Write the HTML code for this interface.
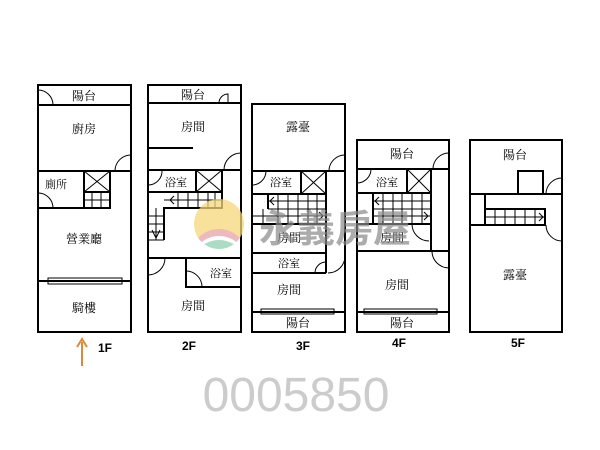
<!DOCTYPE html>
<html><head><meta charset="utf-8"><style>
html,body{margin:0;padding:0;background:#fff;}
svg{display:block;}
text{font-family:"Liberation Sans","Noto Sans CJK TC",sans-serif;}
.lb text{font-family:"Liberation Serif","Noto Serif CJK SC",serif;}
</style></head><body>
<svg width="600" height="450" viewBox="0 0 600 450" xmlns="http://www.w3.org/2000/svg">
<defs>
<clipPath id="lc"><circle cx="219" cy="224" r="25"/></clipPath>
</defs>
<g fill="none" stroke="#000" stroke-width="2">
<rect x="38" y="85" width="93" height="247"/>
<line x1="38" y1="105" x2="131" y2="105"/>
<line x1="38" y1="171" x2="131" y2="171"/>
<polyline points="38,208 84,208 84,171"/>
<rect x="84" y="171" width="26" height="21"/>
<rect x="84" y="192" width="26" height="16"/>
<line x1="38" y1="281" x2="131" y2="281"/>
</g>
<g fill="none" stroke="#000" stroke-width="1">
<line x1="84" y1="171" x2="110" y2="192"/><line x1="110" y1="171" x2="84" y2="192"/>
<line x1="92" y1="192" x2="92" y2="208"/><line x1="101" y1="192" x2="101" y2="208"/><line x1="84" y1="200" x2="110" y2="200"/>
<rect x="48" y="278" width="74" height="6"/>
<path d="M38,90 A15,15 0 0 1 53,105"/>
<path d="M131,155 A16,16 0 0 0 115,171"/>
<path d="M38,193 A15,15 0 0 1 53,208"/>
</g>
<g fill="none" stroke="#000" stroke-width="2">
<rect x="148" y="85" width="93" height="247"/>
<line x1="148" y1="103" x2="241" y2="103"/>
<line x1="148" y1="148" x2="193" y2="148"/>
<line x1="148" y1="170" x2="241" y2="170"/>
<polyline points="148,192 196,192 196,170"/>
<rect x="196" y="170" width="26" height="22"/>
<polyline points="164,240 164,208 222,208 222,192 164,192"/>
<line x1="148" y1="258" x2="241" y2="258"/>
<polyline points="186,258 186,287 241,287"/>
</g>
<g fill="none" stroke="#000" stroke-width="1">
<line x1="196" y1="170" x2="222" y2="192"/><line x1="222" y1="170" x2="196" y2="192"/>
<line x1="164" y1="200" x2="222" y2="200"/>
<line x1="178" y1="192" x2="178" y2="208"/><line x1="188" y1="192" x2="188" y2="208"/><line x1="198" y1="192" x2="198" y2="208"/><line x1="208" y1="192" x2="208" y2="208"/><line x1="215" y1="192" x2="215" y2="208"/>
<line x1="156" y1="208" x2="156" y2="240"/>
<line x1="148" y1="216" x2="164" y2="216"/><line x1="148" y1="224" x2="164" y2="224"/><line x1="148" y1="232" x2="164" y2="232"/><line x1="148" y1="240" x2="164" y2="240"/>
<path d="M170,200 L184,200 M174,196 L170,200 L174,204"/>
<path d="M152,230 L156,238 L160,230"/>
<path d="M228,103 L228,94 A9,9 0 0 0 219,103"/>
<path d="M241,153 A17,17 0 0 0 224,170"/>
<path d="M148,185 A14,14 0 0 0 162,170"/>
<path d="M148,275 A17,17 0 0 0 165,258"/>
<path d="M186,271 A16,16 0 0 1 202,287"/>
</g>
<g fill="none" stroke="#000" stroke-width="2">
<rect x="252" y="104" width="93" height="228"/>
<line x1="252" y1="171" x2="345" y2="171"/>
<line x1="252" y1="194" x2="326" y2="194"/>
<rect x="301" y="171" width="25" height="23"/>
<line x1="326" y1="171" x2="326" y2="273"/>
<line x1="268" y1="194" x2="268" y2="209"/>
<line x1="252" y1="224" x2="326" y2="224"/>
<line x1="252" y1="253" x2="326" y2="253"/>
<line x1="252" y1="273" x2="326" y2="273"/>
<line x1="252" y1="312" x2="345" y2="312"/>
</g>
<g fill="none" stroke="#000" stroke-width="1">
<line x1="301" y1="171" x2="326" y2="194"/><line x1="326" y1="171" x2="301" y2="194"/>
<line x1="268" y1="209" x2="326" y2="209"/><line x1="268" y1="201" x2="326" y2="201"/><line x1="252" y1="216" x2="326" y2="216"/>
<line x1="278" y1="194" x2="278" y2="224"/><line x1="288" y1="194" x2="288" y2="224"/><line x1="298" y1="194" x2="298" y2="224"/><line x1="308" y1="194" x2="308" y2="224"/><line x1="317" y1="194" x2="317" y2="224"/>
<line x1="263" y1="209" x2="263" y2="224"/>
<path d="M270,201 L290,201 M274,197 L270,201 L274,205"/>
<path d="M300,216 L323,216 M319,212 L323,216 L319,220"/>
<rect x="261" y="309" width="73" height="5"/>
<path d="M345,155 A16,16 0 0 0 329,171"/>
<path d="M252,185 A14,14 0 0 0 266,171"/>
<path d="M345,256 A17,17 0 0 1 328,273"/>
<path d="M326,262 A11,11 0 0 0 315,273"/>
</g>
<g fill="none" stroke="#000" stroke-width="2">
<rect x="357" y="140" width="92" height="192"/>
<line x1="357" y1="169" x2="449" y2="169"/>
<line x1="357" y1="193" x2="431" y2="193"/>
<rect x="407" y="169" width="24" height="24"/>
<line x1="431" y1="169" x2="431" y2="251"/>
<line x1="373" y1="193" x2="373" y2="224"/>
<line x1="357" y1="224" x2="431" y2="224"/>
<line x1="357" y1="251" x2="449" y2="251"/>
<line x1="357" y1="312" x2="449" y2="312"/>
</g>
<g fill="none" stroke="#000" stroke-width="1">
<line x1="407" y1="169" x2="431" y2="193"/><line x1="431" y1="169" x2="407" y2="193"/>
<line x1="373" y1="201" x2="431" y2="201"/><line x1="373" y1="209" x2="431" y2="209"/><line x1="373" y1="216" x2="431" y2="216"/>
<line x1="383" y1="193" x2="383" y2="224"/><line x1="393" y1="193" x2="393" y2="224"/><line x1="402" y1="193" x2="402" y2="224"/><line x1="412" y1="193" x2="412" y2="224"/><line x1="422" y1="193" x2="422" y2="224"/>
<path d="M375,201 L395,201 M379,197 L375,201 L379,205"/>
<path d="M405,216 L428,216 M424,212 L428,216 L424,220"/>
<rect x="364" y="309" width="73" height="5"/>
<path d="M449,153 A16,16 0 0 0 433,169"/>
<path d="M357,183 A14,14 0 0 0 371,169"/>
<path d="M412,224 A17,17 0 0 0 429,241"/>
<path d="M449,268 A17,17 0 0 1 432,251"/>
</g>
<g fill="none" stroke="#000" stroke-width="2">
<rect x="470" y="140" width="92" height="192"/>
<rect x="518" y="171" width="25" height="23"/>
<line x1="470" y1="194" x2="562" y2="194"/>
<line x1="485" y1="194" x2="485" y2="225"/>
<rect x="485" y="209" width="60" height="16"/>
<line x1="470" y1="225" x2="545" y2="225"/>
</g>
<g fill="none" stroke="#000" stroke-width="1">
<line x1="485" y1="217" x2="545" y2="217"/>
<line x1="495" y1="209" x2="495" y2="225"/><line x1="505" y1="209" x2="505" y2="225"/><line x1="515" y1="209" x2="515" y2="225"/><line x1="525" y1="209" x2="525" y2="225"/><line x1="535" y1="209" x2="535" y2="225"/>
<path d="M522,217 L543,217 M539,213 L543,217 L539,221"/>
<path d="M562,178 A16,16 0 0 0 546,194"/>
<path d="M562,241 A16,16 0 0 1 546,225"/>
</g>
<g class="lb" font-size="12" fill="#000" text-anchor="middle">
<text x="84" y="100">陽台</text>
<text x="84" y="133">廚房</text>
<text x="56" y="188" font-size="11">廁所</text>
<text x="84" y="243">營業廳</text>
<text x="84" y="312">騎樓</text>
<text x="193" y="99">陽台</text>
<text x="193" y="131">房間</text>
<text x="176" y="186" font-size="11">浴室</text>
<text x="221" y="277" font-size="11">浴室</text>
<text x="193" y="310">房間</text>
<text x="298" y="131">露臺</text>
<text x="281" y="186" font-size="11">浴室</text>
<text x="289" y="242">房間</text>
<text x="289" y="267" font-size="11">浴室</text>
<text x="289" y="294">房間</text>
<text x="298" y="327">陽台</text>
<text x="402" y="158">陽台</text>
<text x="387" y="186" font-size="11">浴室</text>
<text x="392" y="242">房間</text>
<text x="397" y="289">房間</text>
<text x="402" y="327">陽台</text>
<text x="515" y="159">陽台</text>
<text x="515" y="279">露臺</text>
</g>
<g font-size="12" font-weight="bold" fill="#000" text-anchor="middle">
<text x="105" y="352">1F</text>
<text x="189" y="350">2F</text>
<text x="303" y="350">3F</text>
<text x="399" y="347">4F</text>
<text x="518" y="347">5F</text>
</g>
<g stroke="#d98a3a" stroke-width="2" fill="none">
<line x1="82" y1="366" x2="82" y2="342"/>
<path d="M77,347 L82,339 L87,347"/>
</g>
<text x="296" y="411" font-size="48" fill="#cccccc" text-anchor="middle">0005850</text>
<g clip-path="url(#lc)" opacity="0.75">
<rect x="190" y="195" width="60" height="60" fill="#f6d77a"/>
<circle cx="219" cy="258" r="29" fill="#e8a2a8"/>
<circle cx="219" cy="264" r="28" fill="#ffffff"/>
<circle cx="219" cy="268" r="28" fill="#8fd0b0"/>
</g>
<text x="335" y="242" font-size="38" font-weight="bold" fill="#8a8a8a" opacity="0.7" text-anchor="middle">永義房屋</text>
</svg>
</body></html>
